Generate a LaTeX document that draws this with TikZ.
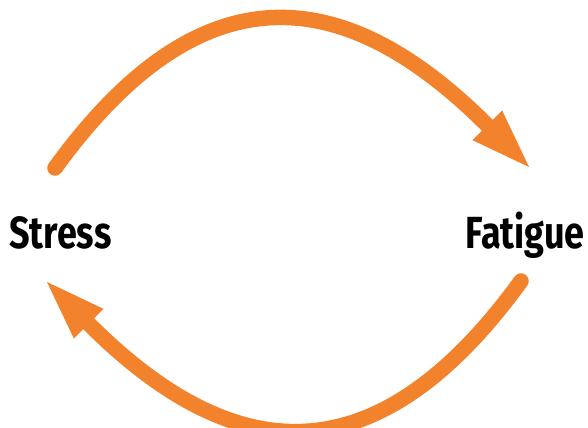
\documentclass[tikz,border=0pt]{standalone}
\usepackage{fontspec}
\setmainfont{Fira Sans}[FakeStretch=0.8]
\usetikzlibrary{arrows.meta}
\definecolor{flowc}{HTML}{F3822C}
\begin{document}
\begin{tikzpicture}[x=1bp,y=-1bp,
  flow/.style={draw=flowc, line width=15.5bp, line cap=round,
    -{Triangle[length=59bp,width=42bp,line width=0pt,fill=flowc]}},
  label/.style={inner sep=0pt, font=\bfseries\fontsize{45bp}{50bp}\selectfont, text=black}]
\useasboundingbox (0,0) rectangle (588,427);
\node[label, anchor=base west] (stress) at (9,248) {Stress};
\node[label, anchor=base east] (fatigue) at (585,248) {Fatigue};
\coordinate (a1s) at (55,168);
\coordinate (a1e) at (529,167);
\coordinate (a2s) at (521,281);
\coordinate (a2e) at (47,282);
\draw[flow] (a1s) .. controls (195,-25) and (337,-25) .. (a1e);
\draw[flow] (a2s) .. controls (381,474) and (239,474) .. (a2e);
\end{tikzpicture}
\end{document}
